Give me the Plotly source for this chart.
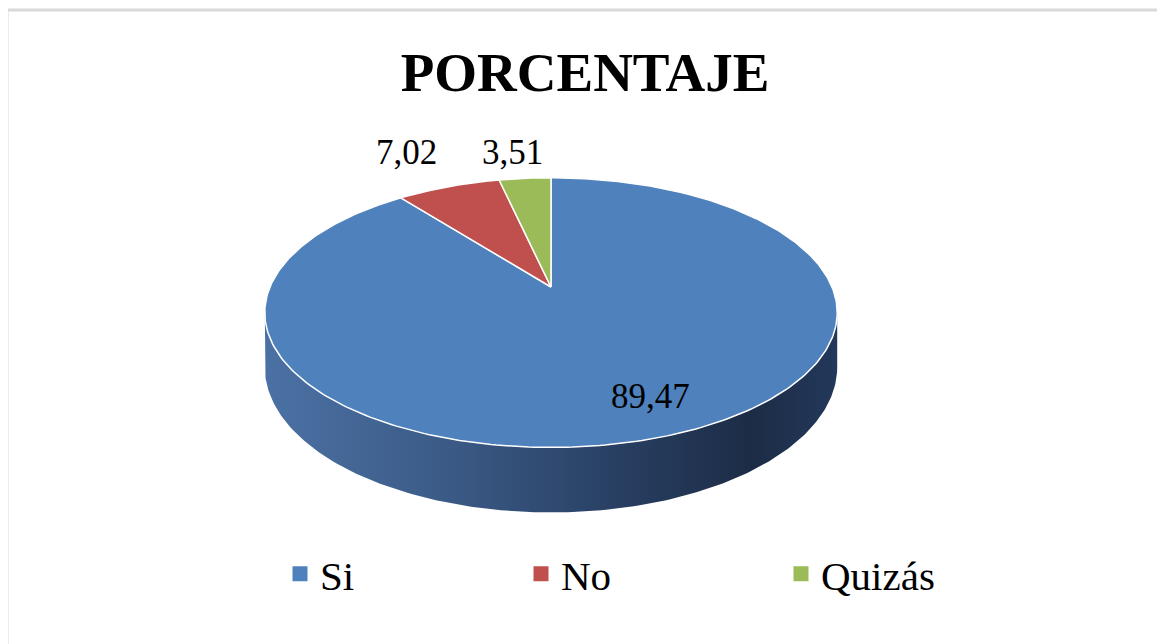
import numpy as np
import plotly.graph_objects as go

# ---- data ----
categories = ["Si", "No", "Quizás"]
values = [89.47, 7.02, 3.51]
value_labels = ["89,47", "7,02", "3,51"]
colors = ["#4f81bd", "#c0504d", "#9bbb59"]
chart_title = "PORCENTAJE"

# ---- 3D pie geometry (pixel space of the page) ----
W, H = 1165, 644
OFF = 8                 # page body margin
CX, CY = 551, 287       # projected centre of the top face
A, B = 281, 130         # horizontal / vertical radii
K = 0.19                # perspective factor
DEPTH = 52.6            # thickness
LABEL_R = [0.77, 1.42, 1.29]
LABEL_XSHIFT = [18, -8, -6]
FONT = "Liberation Serif, Times New Roman, serif"


def px(p):
    return (p - OFF) / W


def py(p):
    return 1 - (p - OFF) / H


def project(theta_deg, r=1.0, bottom=False):
    t = np.radians(theta_deg)
    u = r * np.sin(t)
    v = r * np.cos(t)
    w = 1 + K * v
    x = CX + A * u / w
    y = CY - B * v / w + (DEPTH / w if bottom else 0)
    return x, y


total = sum(values)
cum = np.concatenate([[0], np.cumsum(values)]) / total * 360.0

fig = go.Figure()

# side wall (visible front part)
tR = np.degrees(np.arccos(-K))
tL = 360 - tR
ts = np.linspace(tR, tL, 200)
xt, yt = project(ts)
xb, yb = project(ts[::-1], bottom=True)
fig.add_trace(go.Scatter(
    x=np.concatenate([xt, xb, xt[:1]]), y=np.concatenate([yt, yb, yt[:1]]),
    mode="lines", fill="toself", line=dict(width=0),
    fillgradient=dict(type="horizontal",
                      colorscale=[[0, "#4b71a4"], [0.3, "#3c5c88"], [0.62, "#283f62"],
                                  [0.85, "#1c2c46"], [1, "#23385a"]]),
    hoverinfo="skip", showlegend=False))

# top face slices
for i, (c, col) in enumerate(zip(categories, colors)):
    th = np.linspace(cum[i], cum[i + 1], max(4, int(values[i] * 4)))
    x, y = project(th)
    fig.add_trace(go.Scatter(
        x=np.concatenate([[CX], x, [CX]]), y=np.concatenate([[CY], y, [CY]]),
        mode="lines", fill="toself", fillcolor=col,
        line=dict(color="white", width=1.5),
        hoverinfo="skip", showlegend=False))

# data labels
annotations = []
for i, lab in enumerate(value_labels):
    mid = (cum[i] + cum[i + 1]) / 2
    lx, ly = project(mid, r=LABEL_R[i])
    annotations.append(dict(
        x=float(lx), y=float(ly), xref="x", yref="y", text=lab, showarrow=False,
        xanchor="center", yanchor="middle", xshift=LABEL_XSHIFT[i],
        font=dict(family=FONT, size=35, color="black")))

# legend entries
legend_names = ["legend", "legend2", "legend3"]
legend_x = [280, 521, 781]
for c, col, lg in zip(categories, colors, legend_names):
    fig.add_trace(go.Scatter(
        x=[None], y=[None], mode="markers", name=c, legend=lg,
        marker=dict(symbol="square", size=15, color=col)))

leg_common = dict(orientation="h", yanchor="middle", y=py(574), xanchor="left",
                  font=dict(family=FONT, size=41, color="black"),
                  bgcolor="rgba(0,0,0,0)", borderwidth=0)
fig.update_layout(
    legend=dict(x=px(legend_x[0]), **leg_common),
    legend2=dict(x=px(legend_x[1]), **leg_common),
    legend3=dict(x=px(legend_x[2]), **leg_common),
)

fig.update_layout(
    width=W, height=H,
    margin=dict(l=0, r=0, t=0, b=0),
    paper_bgcolor="white", plot_bgcolor="white",
    title=dict(text="<b>" + chart_title + "</b>", x=px(585), xanchor="center",
               y=py(72), yanchor="middle",
               font=dict(family=FONT, size=55, color="black")),
    xaxis=dict(range=[OFF, W + OFF], visible=False, fixedrange=True),
    yaxis=dict(range=[H + OFF, OFF], visible=False, fixedrange=True),
    annotations=annotations,
    shapes=[dict(type="rect", xref="paper", yref="paper",
                 x0=px(7), x1=px(1163), y0=-0.05, y1=py(10),
                 line=dict(color="#d9d9d9", width=3), layer="below")],
)

fig.write_html("out.html")
